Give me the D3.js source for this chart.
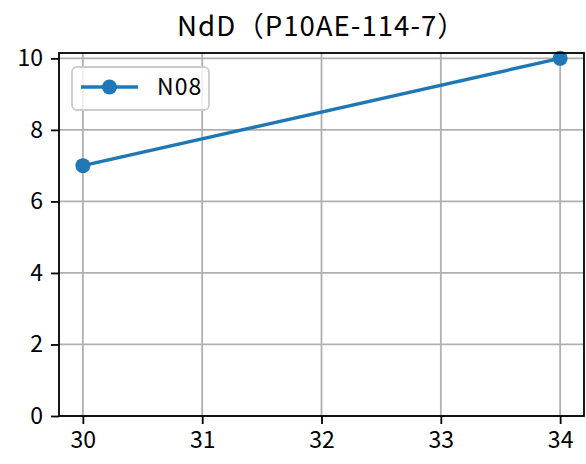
<!DOCTYPE html>
<html>
<head>
<meta charset="utf-8">
<script src="https://cdn.jsdelivr.net/npm/d3@7"></script>
<style>
  body { margin: 0; background: #fff; }
  svg text { font-family: "Noto Sans CJK JP", "DejaVu Sans", sans-serif; fill: #000; }
</style>
</head>
<body>
<svg id="chart"></svg>
<script>
var title = "NdD\uFF08P10AE-114-7\uFF09";
var seriesName = "N08";
var xValues = [30, 34];
var yValues = [7, 10];
var xTicks = [30, 31, 32, 33, 34];
var yTicks = [0, 2, 4, 6, 8, 10];

function drawChart() {
    var W = 586, H = 464;
    var margin = {top: 53, right: 2, bottom: 48, left: 59},
        width = W - margin.left - margin.right,
        height = H - margin.top - margin.bottom;

    var color = "#1f77b4";

    var svg = d3.select("#chart")
        .attr("width", W)
        .attr("height", H);

    var x = d3.scaleLinear()
        .domain([29.8, 34.2])
        .range([0, width]);

    var y = d3.scaleLinear()
        .domain([0, 10.15])
        .range([height, 0]);

    var graph = svg.append("g")
        .attr("transform", "translate(" + margin.left + "," + margin.top + ")");

    // grid
    graph.append("g").selectAll("line.gx")
        .data(xTicks).enter().append("line")
            .attr("x1", function(d) { return x(d); })
            .attr("x2", function(d) { return x(d); })
            .attr("y1", 0).attr("y2", height)
            .attr("stroke", "#b0b0b0").attr("stroke-width", 1.8);

    graph.append("g").selectAll("line.gy")
        .data(yTicks).enter().append("line")
            .attr("y1", function(d) { return y(d); })
            .attr("y2", function(d) { return y(d); })
            .attr("x1", 0).attr("x2", width)
            .attr("stroke", "#b0b0b0").attr("stroke-width", 1.8);

    // axes
    var xAxis = graph.append("g")
        .attr("transform", "translate(0," + height + ")")
        .call(d3.axisBottom(x).tickValues(xTicks).tickSize(8).tickPadding(8).tickFormat(d3.format("d")));

    var yAxis = graph.append("g")
        .call(d3.axisLeft(y).tickValues(yTicks).tickSize(8).tickPadding(8).tickFormat(d3.format("d")));

    [xAxis, yAxis].forEach(function(a) {
        a.select(".domain").remove();
        a.selectAll(".tick line").attr("stroke", "#000").attr("stroke-width", 1.8);
        a.selectAll(".tick text").attr("font-size", 23).style("font-family", "'Noto Sans CJK JP', sans-serif");
    });

    // line + markers
    var data = xValues.map(function(d, i) { return {x: d, y: yValues[i]}; });

    var line = d3.line()
        .x(function(d) { return x(d.x); })
        .y(function(d) { return y(d.y); });

    graph.append("path")
        .datum(data)
        .attr("fill", "none")
        .attr("stroke", color)
        .attr("stroke-width", 3.4)
        .attr("d", line);

    graph.selectAll("circle.pt")
        .data(data).enter().append("circle")
            .attr("cx", function(d) { return x(d.x); })
            .attr("cy", function(d) { return y(d.y); })
            .attr("r", 7.5)
            .attr("fill", color);

    // frame
    graph.append("rect")
        .attr("width", width).attr("height", height)
        .attr("fill", "none").attr("stroke", "#000").attr("stroke-width", 1.8);

    // legend
    var leg = graph.append("g").attr("transform", "translate(13,14)");
    leg.append("rect")
        .attr("width", 137).attr("height", 43)
        .attr("rx", 5).attr("ry", 5)
        .attr("fill", "#fff").attr("fill-opacity", 0.8)
        .attr("stroke", "#cccccc").attr("stroke-width", 1.8);
    leg.append("line")
        .attr("x1", 9).attr("x2", 66)
        .attr("y1", 20).attr("y2", 20)
        .attr("stroke", color).attr("stroke-width", 3.4);
    leg.append("circle")
        .attr("cx", 37.5).attr("cy", 20).attr("r", 7.5)
        .attr("fill", color);
    leg.append("text")
        .attr("x", 85).attr("y", 28)
        .attr("font-size", 23)
        .attr("letter-spacing", 1)
        .text(seriesName);

    // title
    svg.append("text")
        .attr("x", margin.left + width / 2)
        .attr("y", 36)
        .attr("text-anchor", "middle")
        .attr("font-size", 27.6)
        .attr("letter-spacing", 1)
        .text(title);
}

drawChart();
</script>
</body>
</html>
